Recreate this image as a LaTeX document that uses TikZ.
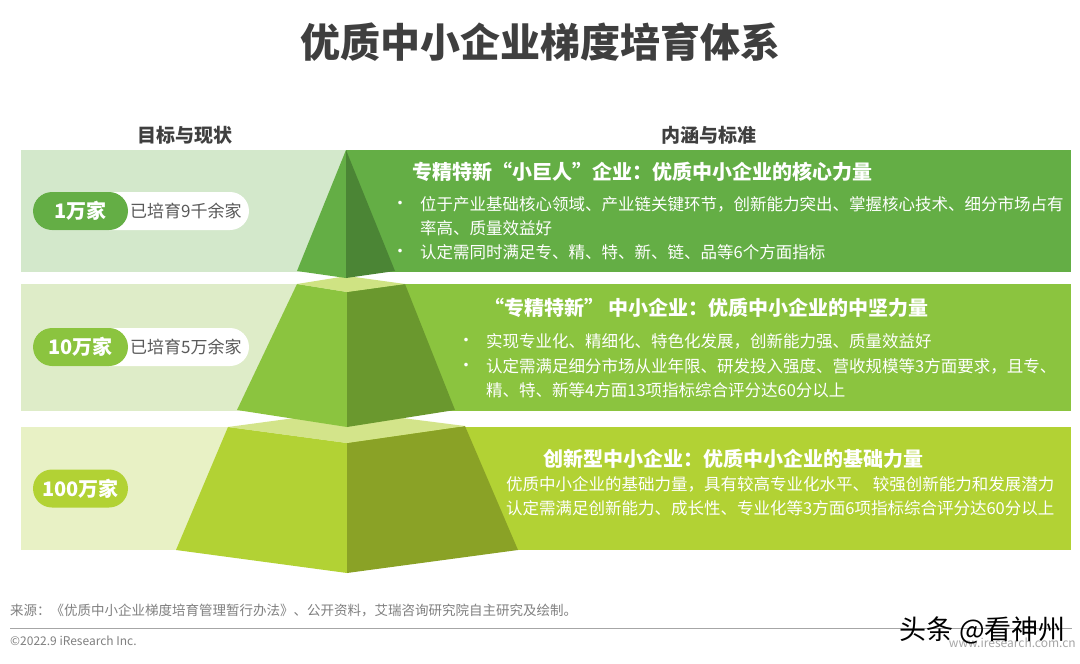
\documentclass[tikz,border=0pt]{standalone}
\usepackage{fontspec}
\setmainfont{Noto Sans CJK SC}
\definecolor{titlec}{HTML}{3F3F3F}
\definecolor{grayt}{HTML}{595959}
\definecolor{foot}{HTML}{808080}
\definecolor{lineg}{HTML}{A6A6A6}
\definecolor{bonel}{HTML}{D3E8CB}
\definecolor{boner}{HTML}{64AE45}
\definecolor{bonedk}{HTML}{4B8535}
\definecolor{btwol}{HTML}{DEECC8}
\definecolor{btwor}{HTML}{8BC43F}
\definecolor{btwodk}{HTML}{6A982E}
\definecolor{btwotop}{HTML}{CFE383}
\definecolor{bthrl}{HTML}{E8F1C5}
\definecolor{bthrr}{HTML}{B2D234}
\definecolor{bthrdk}{HTML}{8AA226}
\definecolor{bthrtop}{HTML}{D3E48A}
\begin{document}
\begin{tikzpicture}[x=1pt,y=-1pt,
  txt/.style={inner sep=0pt, anchor=west, text=white, font=\fontsize{16.5}{16.5}\selectfont},
  hdr/.style={inner sep=0pt, anchor=west, text=white, font=\bfseries\fontsize{20}{20}\selectfont},
  bul/.style={inner sep=0pt, anchor=center, text=white, font=\fontsize{17}{17}\selectfont},
  pill/.style={rounded corners=19pt, minimum width=95pt, minimum height=38pt, inner sep=0pt, text=white, font=\bfseries\fontsize{20}{20}\selectfont},
  colh/.style={inner sep=0pt, text=titlec, font=\bfseries\fontsize{19}{19}\selectfont},
  stat/.style={inner sep=0pt, anchor=west, text=grayt, font=\fontsize{17}{17}\selectfont}]
\useasboundingbox[fill=white] (0,0) rectangle (1080,664);

% title and column headers
\node[inner sep=0pt, text=titlec, font=\bfseries\fontsize{40}{40}\selectfont] (title) at (540,42) {优质中小企业梯度培育体系};
\node[colh] (hleft) at (185,135) {目标与现状};
\node[colh] (hright) at (709,135) {内涵与标准};

% bands
\fill[bonel] (21,150) rectangle (347,272);
\fill[boner] (346,150) rectangle (1071,272);
\fill[btwol] (21,284) rectangle (348,411);
\fill[btwor] (347,284) rectangle (1071,411);
\fill[bthrl] (21,427) rectangle (348,550);
\fill[bthrr] (347,427) rectangle (1071,550);

% bottom frustum
\fill[bthrr] (228,427) -- (347,443) -- (347,573) -- (176,550) -- cycle;
\fill[bthrdk] (347,443) -- (465,426) -- (518,550) -- (347,573) -- cycle;
\fill[bthrtop] (228,427) -- (347,411) -- (465,426) -- (347,443) -- cycle;

% middle frustum
\fill[btwor] (297,284) -- (347,292) -- (347,427) -- (237,410) -- cycle;
\fill[btwodk] (347,292) -- (405,284) -- (455,410) -- (347,427) -- cycle;
\fill[btwotop] (297,284) -- (347,276) -- (405,284) -- (347,292) -- cycle;

% top pyramid
\fill[boner] (346,150) -- (346,278) -- (297,271) -- cycle;
\fill[bonedk] (346,150) -- (395,271) -- (346,278) -- cycle;

% pills
\fill[white, rounded corners=19pt] (33,192) rectangle (249,230);
\node[pill, fill=boner] (p1) at (80.5,211) {1万家};
\node[stat] (s1) at (130,211) {已培育9千余家};
\fill[white, rounded corners=19pt] (33,328) rectangle (249,366);
\node[pill, fill=btwor] (p2) at (80.5,347) {10万家};
\node[stat] (s2) at (130,347) {已培育5万余家};
\node[pill, fill=bthrr] (p3) at (80.5,488.5) {100万家};

% band 1 texts
\node[hdr] (h1) at (412,172) {专精特新“小巨人”企业：优质中小企业的核心力量};
\node[bul] (b1a) at (400,205) {•};
\node[txt] (t1a) at (420,204) {位于产业基础核心领域、产业链关键环节，创新能力突出、掌握核心技术、细分市场占有};
\node[txt] (t1b) at (420,228) {率高、质量效益好};
\node[bul] (b1b) at (400,253) {•};
\node[txt] (t1c) at (420,252) {认定需同时满足专、精、特、新、链、品等6个方面指标};

% band 2 texts
\node[hdr] (h2) at (484,308) {“专精特新” 中小企业：优质中小企业的中坚力量};
\node[bul] (b2a) at (466,342) {•};
\node[txt] (t2a) at (486,341) {实现专业化、精细化、特色化发展，创新能力强、质量效益好};
\node[bul] (b2b) at (466,367) {•};
\node[txt] (t2b) at (486,366) {认定需满足细分市场从业年限、研发投入强度、营收规模等3方面要求，且专、};
\node[txt] (t2c) at (486,390) {精、特、新等4方面13项指标综合评分达60分以上};

% band 3 texts
\node[hdr] (h3) at (543,459) {创新型中小企业：优质中小企业的基础力量};
\node[txt] (t3a) at (506,484) {优质中小企业的基础力量，具有较高专业化水平、 较强创新能力和发展潜力};
\node[txt] (t3b) at (506,508) {认定需满足创新能力、成长性、专业化等3方面6项指标综合评分达60分以上};

% footer
\node[inner sep=0pt, anchor=west, text=foot, font=\fontsize{13.5}{13.5}\selectfont] (src) at (10,610) {来源：《优质中小企业梯度培育管理暂行办法》、公开资料，艾瑞咨询研究院自主研究及绘制。};
\coordinate (la) at (10,628);
\coordinate (lb) at (1072,628);
\draw[lineg, line width=1pt] (la) -- (lb);
\node[inner sep=0pt, anchor=west, text=foot, font=\fontsize{12}{12}\selectfont] (copy) at (10,641) {©2022.9 iResearch Inc.};
\node[inner sep=0pt, anchor=east, text=lineg, font=\fontsize{12}{12}\selectfont] (web) at (1076,643) {www.iresearch.com.cn};
\node[inner sep=0pt, anchor=east, text=black, font=\fontsize{27}{27}\selectfont] (wm) at (1066,630) {头条 @看神州};
\end{tikzpicture}
\end{document}
